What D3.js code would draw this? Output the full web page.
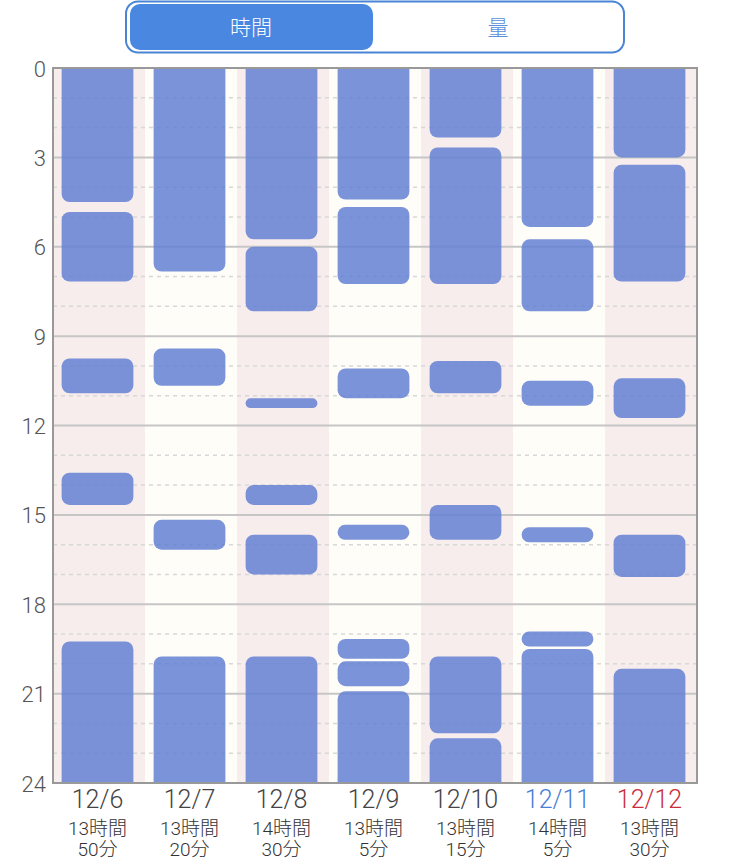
<!DOCTYPE html>
<html>
<head>
<meta charset="utf-8">
<script src="https://cdn.jsdelivr.net/npm/d3@7"></script>
<style>
  body { margin: 0; background: #fff; }
  svg { display: block; font-family: Roboto, "Noto Sans CJK JP", sans-serif; font-weight: 300; }
</style>
</head>
<body>
<svg width="750" height="864"></svg>
<script>
// 日付ごとの睡眠区間 (開始, 終了)
const days = ["12/6", "12/7", "12/8", "12/9", "12/10", "12/11", "12/12"];
const sleep = [
  [["0:00", "4:30"], ["4:50", "7:10"], ["9:45", "10:55"], ["13:35", "14:40"], ["19:15", "24:00"]],
  [["0:00", "6:50"], ["9:25", "10:40"], ["15:10", "16:10"], ["19:45", "24:00"]],
  [["0:00", "5:45"], ["6:00", "8:10"], ["11:05", "11:25"], ["14:00", "14:40"], ["15:40", "17:00"], ["19:45", "24:00"]],
  [["0:00", "4:25"], ["4:40", "7:15"], ["10:05", "11:05"], ["15:20", "15:50"], ["19:10", "19:50"], ["19:55", "20:45"], ["20:55", "24:00"]],
  [["0:00", "2:20"], ["2:40", "7:15"], ["9:50", "10:55"], ["14:40", "15:50"], ["19:45", "22:20"], ["22:30", "24:00"]],
  [["0:00", "5:20"], ["5:45", "8:10"], ["10:30", "11:20"], ["15:25", "15:55"], ["18:55", "19:25"], ["19:30", "24:00"]],
  [["0:00", "3:00"], ["3:15", "7:10"], ["10:25", "11:45"], ["15:40", "17:05"], ["20:10", "24:00"]]
];
const hourTicks = [0, 3, 6, 9, 12, 15, 18, 21, 24];
const tabs = ["時間", "量"];

const toHours = s => { const [h, m] = s.split(":").map(Number); return h + m / 60; };
const dayColor = { "12/11": "#4a7fd6", "12/12": "#c9303c" };

const svg = d3.select("svg");
const plotL = 53, plotR = 697, plotT = 68, plotB = 783;

const x = d3.scaleBand().domain(days).range([plotL, plotR]);
const y = d3.scaleLinear().domain([0, 24]).range([plotT, plotB]);

// タブ
const tabG = svg.append("g");
tabG.append("rect").attr("x", 126).attr("y", 1.5).attr("width", 498).attr("height", 51)
  .attr("rx", 12).attr("fill", "#fff").attr("stroke", "#4a84d6").attr("stroke-width", 2);
tabG.append("rect").attr("x", 130).attr("y", 4).attr("width", 243).attr("height", 46)
  .attr("rx", 10).attr("fill", "#4a87e0");
tabG.selectAll("text").data(tabs).enter().append("text")
  .attr("x", (d, i) => i === 0 ? 251 : 498).attr("y", 28)
  .attr("text-anchor", "middle").attr("dominant-baseline", "central")
  .attr("font-size", 21)
  .attr("fill", (d, i) => i === 0 ? "#fff" : "#5a8fdc")
  .text(d => d);

// 列の背景
svg.append("g").selectAll("rect").data(days).enter().append("rect")
  .attr("x", d => x(d)).attr("y", plotT)
  .attr("width", x.bandwidth()).attr("height", plotB - plotT)
  .attr("fill", (d, i) => i % 2 === 0 ? "#f7eded" : "#fefdf8");

// グリッド線
const hours = d3.range(1, 24);
svg.append("g").selectAll("line").data(hours).enter().append("line")
  .attr("x1", plotL).attr("x2", plotR)
  .attr("y1", d => y(d)).attr("y2", d => y(d))
  .attr("stroke", d => d % 3 === 0 ? "#c6c6c6" : "#d8d8d8")
  .attr("stroke-width", d => d % 3 === 0 ? 2 : 1.5)
  .attr("stroke-dasharray", d => d % 3 === 0 ? null : "4,4");

// 睡眠バー
svg.append("clipPath").attr("id", "plot-clip").append("rect")
  .attr("x", plotL).attr("y", plotT).attr("width", plotR - plotL).attr("height", plotB - plotT);

const barW = x.bandwidth() * 0.78;
const segs = sleep.flatMap((list, i) => list.map(([s, e]) => ({ day: days[i], s: toHours(s), e: toHours(e) })));
svg.append("g").attr("clip-path", "url(#plot-clip)")
  .selectAll("rect").data(segs).enter().append("rect")
  .each(function (d) {
    const h = y(d.e) - y(d.s);
    const r = Math.min(8, h / 2);
    const y0 = d.s === 0 ? y(d.s) - r : y(d.s);
    const y1 = d.e === 24 ? y(d.e) + r : y(d.e);
    d3.select(this)
      .attr("x", x(d.day) + (x.bandwidth() - barW) / 2 - 1.5)
      .attr("y", y0).attr("width", barW).attr("height", y1 - y0)
      .attr("rx", r);
  })
  .attr("fill", "#6480d2").attr("fill-opacity", 0.85);

// 枠
svg.append("rect").attr("x", plotL).attr("y", plotT)
  .attr("width", plotR - plotL).attr("height", plotB - plotT)
  .attr("fill", "none").attr("stroke", "#999").attr("stroke-width", 2);

// 縦軸ラベル
svg.append("g").selectAll("text").data(hourTicks).enter().append("text")
  .attr("x", 46).attr("y", d => y(d) + 1)
  .attr("text-anchor", "end").attr("dominant-baseline", "central")
  .attr("font-size", 22).attr("fill", "#555")
  .text(d => d);

// 日付と合計時間
const totals = sleep.map(list => Math.round(d3.sum(list, ([s, e]) => (toHours(e) - toHours(s)) * 60)));
const lbl = svg.append("g").selectAll("g").data(days).enter().append("g")
  .attr("transform", d => `translate(${x(d) + x.bandwidth() / 2 - 1.5}, 0)`)
  .attr("text-anchor", "middle");
lbl.append("text").attr("y", 808).attr("font-size", 25)
  .attr("fill", d => dayColor[d] || "#444").text(d => d);
lbl.append("text").attr("y", 835).attr("font-size", 19).attr("fill", "#333")
  .text((d, i) => `${Math.floor(totals[i] / 60)}時間`);
lbl.append("text").attr("y", 856).attr("font-size", 19).attr("fill", "#333")
  .text((d, i) => `${totals[i] % 60}分`);
</script>
</body>
</html>
